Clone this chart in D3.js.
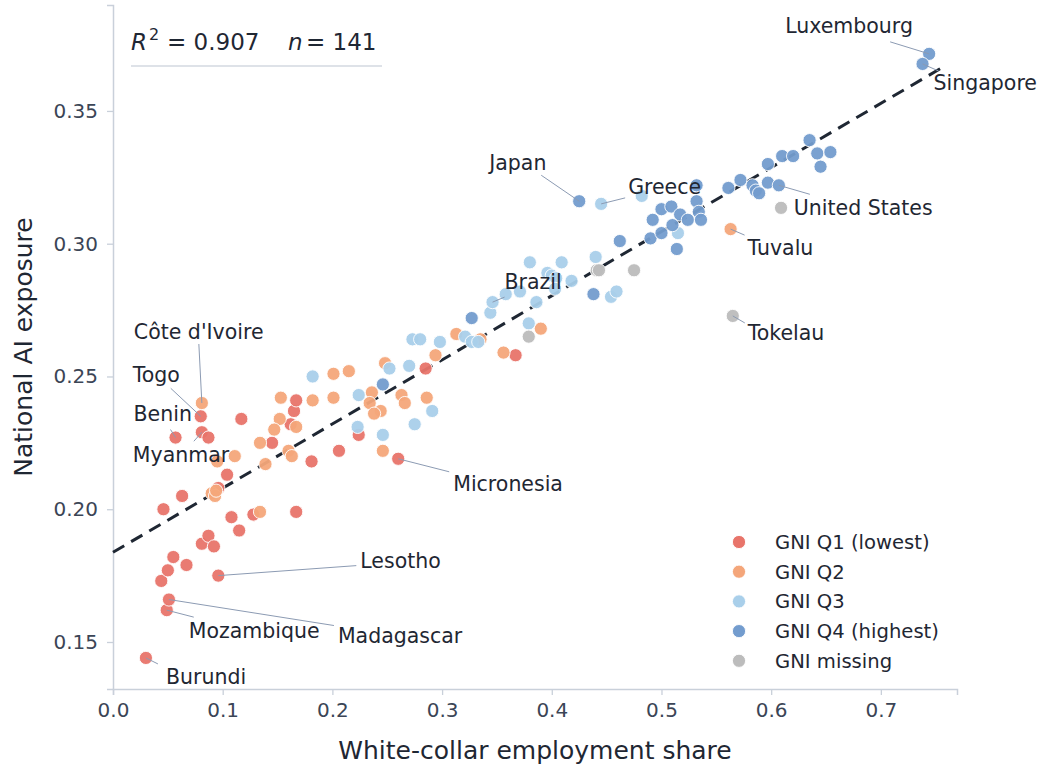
<!DOCTYPE html>
<html>
<head>
<meta charset="utf-8">
<script src="https://cdn.jsdelivr.net/npm/d3@7"></script>
<style>
  html, body { margin: 0; padding: 0; background: #ffffff; }
  svg { display: block; font-family: "DejaVu Sans", sans-serif; }
</style>
</head>
<body>
<svg id="chart" width="1041" height="767"></svg>
<script>
// White-collar employment share (x) vs. national AI exposure (y), by GNI quartile.
// Each entry: [whiteCollarShare, aiExposure, optional country label]
const gniQ1 = [
  [0.030, 0.144, "Burundi"], [0.049, 0.162, "Mozambique"], [0.051, 0.166, "Madagascar"],
  [0.096, 0.175, "Lesotho"], [0.044, 0.173], [0.050, 0.177], [0.055, 0.182], [0.067, 0.179],
  [0.081, 0.187], [0.087, 0.190], [0.092, 0.186], [0.115, 0.192],
  [0.080, 0.235, "Togo"], [0.117, 0.234], [0.165, 0.237], [0.167, 0.241], [0.162, 0.232],
  [0.081, 0.229, "Myanmar"], [0.057, 0.227, "Benin"], [0.087, 0.227], [0.104, 0.213],
  [0.096, 0.208], [0.063, 0.205], [0.046, 0.200], [0.108, 0.197], [0.128, 0.198],
  [0.167, 0.199], [0.145, 0.225], [0.181, 0.218], [0.206, 0.222], [0.224, 0.228],
  [0.260, 0.219, "Micronesia"], [0.285, 0.253], [0.367, 0.258]
];
const gniQ2 = [
  [0.081, 0.240, "Côte d'Ivoire"], [0.153, 0.242], [0.152, 0.234], [0.167, 0.231],
  [0.147, 0.230], [0.111, 0.220], [0.095, 0.218], [0.090, 0.206], [0.093, 0.205],
  [0.094, 0.207], [0.134, 0.199], [0.134, 0.225], [0.160, 0.222], [0.163, 0.220],
  [0.139, 0.217], [0.182, 0.241], [0.201, 0.251], [0.215, 0.252], [0.201, 0.242],
  [0.236, 0.244], [0.234, 0.240], [0.244, 0.237], [0.238, 0.236], [0.246, 0.222],
  [0.248, 0.255], [0.263, 0.243], [0.266, 0.240], [0.294, 0.258], [0.286, 0.242],
  [0.313, 0.266], [0.335, 0.264], [0.390, 0.268], [0.356, 0.259], [0.563, 0.3055, "Tuvalu"]
];
const gniQ3 = [
  [0.182, 0.250], [0.224, 0.243], [0.223, 0.231], [0.246, 0.228], [0.252, 0.253],
  [0.270, 0.254], [0.273, 0.264], [0.280, 0.264], [0.298, 0.263], [0.275, 0.232],
  [0.291, 0.237], [0.321, 0.265], [0.327, 0.263], [0.333, 0.263], [0.344, 0.274],
  [0.346, 0.278, "Brazil"], [0.358, 0.281], [0.371, 0.282], [0.380, 0.293], [0.386, 0.278],
  [0.396, 0.289], [0.379, 0.270], [0.445, 0.315, "Greece"], [0.482, 0.318], [0.440, 0.295],
  [0.454, 0.280], [0.459, 0.282], [0.400, 0.288], [0.404, 0.287], [0.409, 0.293],
  [0.418, 0.286], [0.403, 0.283], [0.515, 0.304]
];
const gniQ4 = [
  [0.246, 0.247], [0.327, 0.272], [0.425, 0.316, "Japan"], [0.462, 0.301], [0.490, 0.302],
  [0.438, 0.281], [0.532, 0.322], [0.532, 0.316], [0.500, 0.313], [0.509, 0.314],
  [0.517, 0.311], [0.492, 0.309], [0.510, 0.307], [0.524, 0.309], [0.534, 0.312],
  [0.536, 0.309], [0.500, 0.304], [0.514, 0.298], [0.561, 0.321], [0.572, 0.324],
  [0.583, 0.322], [0.586, 0.320], [0.589, 0.319], [0.597, 0.323], [0.607, 0.322, "United States"],
  [0.597, 0.330], [0.610, 0.333], [0.620, 0.333], [0.635, 0.339], [0.642, 0.334],
  [0.654, 0.3345], [0.645, 0.329], [0.744, 0.3715, "Luxembourg"], [0.738, 0.3677, "Singapore"]
];
const gniMissing = [
  [0.379, 0.265], [0.441, 0.290], [0.443, 0.290], [0.475, 0.290], [0.609, 0.3135],
  [0.565, 0.2728, "Tokelau"]
];

const groupNames = ["GNI Q1 (lowest)", "GNI Q2", "GNI Q3", "GNI Q4 (highest)", "GNI missing"];
const groupColors = ["#e8746a", "#f4a67a", "#a9cfea", "#739cce", "#bcbcbc"];
const groups = [gniQ1, gniQ2, gniQ3, gniQ4, gniMissing];

// OLS fit summary
const fitIntercept = 0.1838;
const fitSlope = 0.2415;
const fitRange = [0.0, 0.755];
const rSquared = "0.907";
const sampleSize = "141";

const xTicks = [0.0, 0.1, 0.2, 0.3, 0.4, 0.5, 0.6, 0.7];
const yTicks = [0.15, 0.20, 0.25, 0.30, 0.35];

// Label placement: text offset (tx, ty) and leader-line end (lx, ly), pixels from the point
const labelOffsets = {
  "Luxembourg":    { tx: -144, ty: -28, lx: -39, ly: -12 },
  "Singapore":     { tx: 11,   ty: 19,  lx: 16,  ly: 7 },
  "Japan":         { tx: -90,  ty: -39, lx: -38, ly: -26 },
  "Greece":        { tx: 27,   ty: -17, lx: 24,  ly: -6 },
  "United States": { tx: 15,   ty: 22,  lx: 31,  ly: 9 },
  "Tuvalu":        { tx: 17,   ty: 19,  lx: 14,  ly: 6 },
  "Tokelau":       { tx: 15,   ty: 17,  lx: 12,  ly: 7 },
  "Brazil":        { tx: 12,   ty: -21, lx: 12,  ly: -5 },
  "Côte d'Ivoire": { tx: -68,  ty: -71, lx: -3,  ly: -59 },
  "Togo":          { tx: -68,  ty: -42, lx: -30, ly: -28 },
  "Benin":         { tx: -42,  ty: -24, lx: -5,  ly: -8 },
  "Myanmar":       { tx: -69,  ty: 22,  lx: -8,  ly: 9 },
  "Micronesia":    { tx: 55,   ty: 25,  lx: 51,  ly: 13 },
  "Lesotho":       { tx: 142,  ty: -15, lx: 138, ly: -10 },
  "Mozambique":    { tx: 22,   ty: 20,  lx: 27,  ly: 7 },
  "Madagascar":    { tx: 169,  ty: 36,  lx: 165, ly: 26 },
  "Burundi":       { tx: 20,   ty: 19,  lx: 12,  ly: 6 }
};

const svg = d3.select("#chart");
const plot = { left: 113, right: 957, top: 5, bottom: 689 };

const x = d3.scaleLinear().domain([0, 0.7694]).range([plot.left, plot.right]);
const y = d3.scaleLinear().domain([0.1323, 0.3899]).range([plot.bottom, plot.top]);

const spineColor = "#c9d0da";
const tickTextColor = "#3b4556";
const textColor = "#1f2733";

// Axes
const xAxis = svg.append("g")
  .attr("transform", `translate(0,${plot.bottom})`)
  .call(d3.axisBottom(x).tickValues(xTicks).tickFormat(d3.format(".1f")).tickSizeOuter(0).tickSize(6).tickPadding(8));
const yAxis = svg.append("g")
  .attr("transform", `translate(${plot.left},0)`)
  .call(d3.axisLeft(y).tickValues(yTicks).tickFormat(d3.format(".2f")).tickSizeOuter(0).tickSize(6).tickPadding(9));

[xAxis, yAxis].forEach(g => {
  g.select(".domain").attr("stroke", spineColor).attr("stroke-width", 1.5);
  g.selectAll(".tick line").attr("stroke", spineColor).attr("stroke-width", 1.3);
  g.selectAll(".tick text").attr("fill", tickTextColor)
    .style("font-family", "DejaVu Sans").style("font-size", "20px");
});

// Axis titles
svg.append("text")
  .attr("x", (plot.left + plot.right) / 2).attr("y", 759)
  .attr("text-anchor", "middle").attr("fill", textColor)
  .style("font-size", "25px").text("White-collar employment share");
svg.append("text")
  .attr("transform", `translate(32,${(plot.top + plot.bottom) / 2}) rotate(-90)`)
  .attr("text-anchor", "middle").attr("fill", textColor)
  .style("font-size", "25px").text("National AI exposure");

// Regression line
svg.append("line")
  .attr("x1", x(fitRange[0])).attr("y1", y(fitIntercept + fitSlope * fitRange[0]))
  .attr("x2", x(fitRange[1])).attr("y2", y(fitIntercept + fitSlope * fitRange[1]))
  .attr("stroke", "#1f2733").attr("stroke-width", 3)
  .attr("stroke-dasharray", "13,8");

// Points
const pts = [];
groups.forEach((arr, gi) => arr.forEach(d => pts.push({ x: d[0], y: d[1], name: d[2], g: gi })));

svg.append("g").selectAll("circle")
  .data(pts)
  .join("circle")
  .attr("cx", d => x(d.x)).attr("cy", d => y(d.y))
  .attr("r", 6.6)
  .attr("fill", d => groupColors[d.g])
  .attr("fill-opacity", 0.95)
  .attr("stroke", "#ffffff").attr("stroke-width", 0.9);

// Country labels with leader lines
const labeled = pts.filter(d => d.name && labelOffsets[d.name]);
const lab = svg.append("g");
labeled.forEach(d => {
  const o = labelOffsets[d.name];
  const px = x(d.x), py = y(d.y);
  lab.append("line")
    .attr("x1", px).attr("y1", py)
    .attr("x2", px + o.lx).attr("y2", py + o.ly)
    .attr("stroke", "#8c9bb3").attr("stroke-width", 1);
  lab.append("text")
    .attr("x", px + o.tx).attr("y", py + o.ty)
    .attr("dy", "0.36em")
    .attr("fill", textColor)
    .style("font-size", "20.5px")
    .text(d.name);
});

// Fit statistics header
const stat = svg.append("text").attr("y", 50).attr("fill", textColor).style("font-size", "23px");
stat.append("tspan").attr("x", 131).style("font-style", "italic").text("R");
stat.append("tspan").attr("dx", 2).attr("dy", -10).style("font-size", "16px").text("2");
stat.append("tspan").attr("x", 167).attr("dy", 10).text("= " + rSquared);
stat.append("tspan").attr("x", 288).style("font-style", "italic").text("n");
stat.append("tspan").attr("x", 306).text("= " + sampleSize);
svg.append("line")
  .attr("x1", 131).attr("x2", 382).attr("y1", 66).attr("y2", 66)
  .attr("stroke", "#d3d9e0").attr("stroke-width", 1.5);

// Legend
const legend = svg.append("g");
groupNames.forEach((name, i) => {
  const ly = 542 + i * 29.7;
  legend.append("circle").attr("cx", 739).attr("cy", ly).attr("r", 6.6)
    .attr("fill", groupColors[i]).attr("stroke", "#ffffff").attr("stroke-width", 0.9);
  legend.append("text").attr("x", 775).attr("y", ly).attr("dy", "0.36em")
    .attr("fill", textColor).style("font-size", "19.6px").text(name);
});
</script>
</body>
</html>
